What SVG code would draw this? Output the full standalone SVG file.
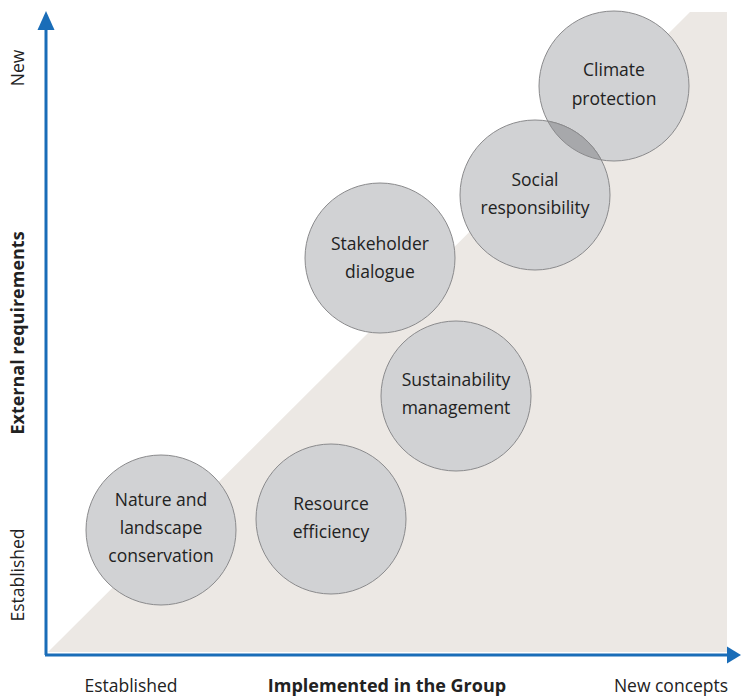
<svg xmlns="http://www.w3.org/2000/svg" width="741" height="696" viewBox="0 0 741 696">
<style>
.c{fill:#d1d2d4;stroke:#8a8a8c;stroke-width:1}
.t{font-family:"Open Sans","Noto Sans",sans-serif;font-size:17.5px;fill:#222;text-anchor:middle}
.b{font-weight:bold;font-size:18px}
.ax{stroke:#1a6db8;stroke-width:3;fill:none}
</style>
<defs>
<clipPath id="clipClimate"><circle cx="614" cy="86" r="75"/></clipPath>
<clipPath id="clipSocial"><circle cx="535" cy="195" r="75"/></clipPath>
</defs>
<rect width="741" height="696" fill="#fff"/>
<polygon points="48,652 690,12 727,12 727,652" fill="#ece8e4"/>
<g id="connectors">
<line class="ax" x1="46" y1="655" x2="46" y2="26"/>
<polygon points="46,11 37.5,30 54.5,30" fill="#1a6db8"/>
<line class="ax" x1="45" y1="655" x2="729" y2="655"/>
<polygon points="741,655 727,646.5 727,663.5" fill="#1a6db8"/>
</g>
<g id="nature"><circle class="c" cx="161" cy="530" r="75"/>
<text class="t" x="161" y="506">Nature and</text><text class="t" x="161" y="534">landscape</text><text class="t" x="161" y="562">conservation</text></g>
<g id="resource"><circle class="c" cx="331" cy="519" r="75"/>
<text class="t" x="331" y="510">Resource</text><text class="t" x="331" y="538">efficiency</text></g>
<g id="sustainability"><circle class="c" cx="456" cy="396" r="75"/>
<text class="t" x="456" y="386">Sustainability</text><text class="t" x="456" y="414">management</text></g>
<g id="stakeholder"><circle class="c" cx="380" cy="258" r="75"/>
<text class="t" x="380" y="250">Stakeholder</text><text class="t" x="380" y="278">dialogue</text></g>
<g id="climate"><circle class="c" cx="614" cy="86" r="75"/>
<text class="t" x="614" y="76">Climate</text><text class="t" x="614" y="105">protection</text></g>
<g id="social"><circle class="c" cx="535" cy="195" r="75"/>
<circle cx="535" cy="195" r="75" fill="#a7a8ab" stroke="#8a8a8c" clip-path="url(#clipClimate)"/>
<circle cx="614" cy="86" r="75" fill="none" stroke="#8a8a8c" clip-path="url(#clipSocial)"/>
<text class="t" x="535" y="186">Social</text><text class="t" x="535" y="214">responsibility</text></g>
<g id="labels">
<text class="t" transform="translate(24,68) rotate(-90)">New</text>
<text class="t" transform="translate(24,575) rotate(-90)">Established</text>
<text class="t b" transform="translate(24,333) rotate(-90)">External requirements</text>
<text class="t" x="131" y="692">Established</text>
<text class="t b" x="387" y="692">Implemented in the Group</text>
<text class="t" x="671" y="692">New concepts</text>
</g>
</svg>
